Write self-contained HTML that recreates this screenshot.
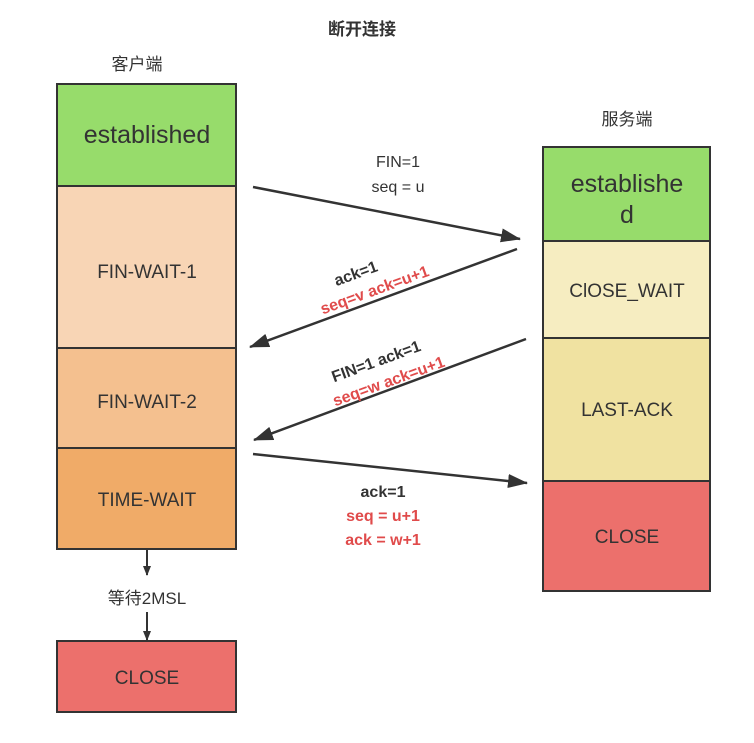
<!DOCTYPE html>
<html><head><meta charset="utf-8"><style>
body{margin:0;background:#fff;width:754px;height:738px;overflow:hidden}
svg text{font-family:"Liberation Sans","Noto Sans CJK SC",sans-serif}
</style></head><body>
<svg width="754" height="738" xmlns="http://www.w3.org/2000/svg">
<defs><marker id="a" markerWidth="10" markerHeight="8" refX="9" refY="4" orient="auto" markerUnits="userSpaceOnUse" viewBox="0 0 10 8"><path d="M0,0 L10,4 L0,8 Z" fill="#333"/></marker>
<marker id="b" markerWidth="20" markerHeight="14" refX="19" refY="7" orient="auto" markerUnits="userSpaceOnUse"><path d="M0,0 L20,7 L0,14 Z" fill="#333"/></marker></defs>
<text x="362" y="35" font-size="17" font-weight="bold" text-anchor="middle" fill="#333">断开连接</text>
<text x="137" y="70" font-size="17" text-anchor="middle" fill="#333">客户端</text>
<text x="627" y="125" font-size="17" text-anchor="middle" fill="#333">服务端</text>
<g stroke="#333" stroke-width="2">
<rect x="57" y="84" width="179" height="102" fill="#97dc6b"/>
<rect x="57" y="186" width="179" height="162" fill="#f8d5b5"/>
<rect x="57" y="348" width="179" height="100" fill="#f4c08f"/>
<rect x="57" y="448" width="179" height="101" fill="#f0ab68"/>
<rect x="57" y="641" width="179" height="71" fill="#ec706c"/>
<rect x="543" y="147" width="167" height="94" fill="#97dc6b"/>
<rect x="543" y="241" width="167" height="97" fill="#f6edc1"/>
<rect x="543" y="338" width="167" height="143" fill="#f0e2a1"/>
<rect x="543" y="481" width="167" height="110" fill="#ec706c"/>
</g>
<g font-size="19" fill="#333" text-anchor="middle">
<text x="147" y="143" font-size="25">established</text>
<text x="147" y="278">FIN-WAIT-1</text>
<text x="147" y="408">FIN-WAIT-2</text>
<text x="147" y="506">TIME-WAIT</text>
<text x="147" y="684">CLOSE</text>
<text x="627" y="192" font-size="25">establishe</text>
<text x="627" y="223" font-size="25">d</text>
<text x="627" y="297">ClOSE_WAIT</text>
<text x="627" y="416">LAST-ACK</text>
<text x="627" y="543">CLOSE</text>
<text x="147" y="604" font-size="17">等待2MSL</text>
</g>
<g stroke="#333" stroke-width="2.5" fill="none">
<line x1="253" y1="187" x2="520" y2="239" marker-end="url(#b)"/>
<line x1="517" y1="249" x2="250" y2="347" marker-end="url(#b)"/>
<line x1="526" y1="339" x2="254" y2="440" marker-end="url(#b)"/>
<line x1="253" y1="454" x2="527" y2="483" marker-end="url(#b)"/>
<line x1="147" y1="549" x2="147" y2="575" stroke-width="2" marker-end="url(#a)"/>
<line x1="147" y1="612" x2="147" y2="640" stroke-width="2" marker-end="url(#a)"/>
</g>
<g font-size="16" text-anchor="middle">
<text x="398" y="167" fill="#333">FIN=1</text>
<text x="398" y="192" fill="#333">seq = u</text>
<g transform="rotate(-20 360 285)" font-weight="bold">
<text x="360" y="278" fill="#333">ack=1</text>
<text x="372" y="300" fill="#e04b4b">seq=v ack=u+1</text>
</g>
<g transform="rotate(-20 380 372)" font-weight="bold">
<text x="380" y="366" fill="#333">FIN=1 ack=1</text>
<text x="385" y="389" fill="#e04b4b">seq=w ack=u+1</text>
</g>
<g font-weight="bold">
<text x="383" y="497" fill="#333">ack=1</text>
<text x="383" y="521" fill="#e04b4b">seq = u+1</text>
<text x="383" y="545" fill="#e04b4b">ack = w+1</text>
</g>
</g>
</svg>
</body></html>
